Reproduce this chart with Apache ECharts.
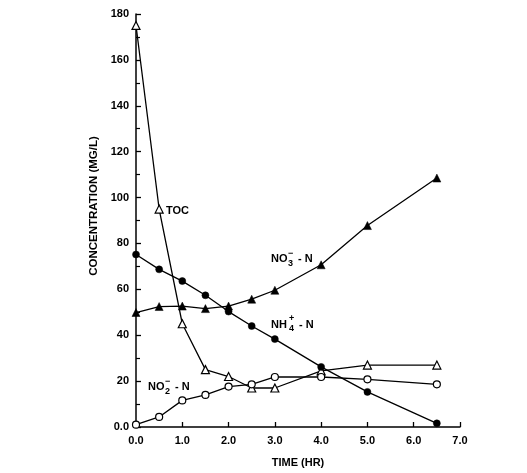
<!DOCTYPE html>
<html><head><meta charset="utf-8">
<script src="https://cdn.jsdelivr.net/npm/echarts@6/dist/echarts.min.js"></script>
<style>html,body{margin:0;padding:0;background:#fff}#c{width:527px;height:473px}</style>
</head><body><div id="c"></div>
<script>
const timeHr = [0, 0.5, 1.0, 1.5, 2.0, 2.5, 3.0, 4.0, 5.0, 6.5];
const tocVals = [175, 95, 45, 25, 22, 17, 17, 24.5, 27, 27];
const nh4Vals = [75.2, 68.7, 63.6, 57.4, 50.3, 44, 38.3, 26.2, 15.3, 1.6];
const no3Vals = [49.9, 52.5, 52.7, 51.6, 52.7, 55.7, 59.6, 70.7, 87.8, 108.5];
const no2Vals = [1, 4.4, 11.6, 14, 17.6, 18.6, 21.8, 21.8, 20.8, 18.6];
const xTicks = [0, 1, 2, 3, 4, 5, 6, 7];
const yTicks = [0, 20, 40, 60, 80, 100, 120, 140, 160, 180];

const F = '"Liberation Sans", Arial, sans-serif';
function pairs(v){ return timeHr.map((t,i)=>[t, v[i]]); }
function ser(name, vals, symbol, open, size){
  return {name, type:'line', data:pairs(vals), symbol, symbolSize:size,
    showAllSymbol:true,
    lineStyle:{color:'#000', width:1.3},
    itemStyle:{color: open ? '#fff' : '#000', borderColor:'#000', borderWidth: open?1.2:0.5},
    z: open ? 3 : 4, animation:false};
}
const chart = echarts.init(document.getElementById('c'));
const txt = (x,y,s,size)=>({type:'text', left:x, top:y, style:{text:s, font:'bold '+(size||11)+'px '+F, fill:'#000'}});
chart.setOption({
  animation:false,
  grid:{left:136, right:67, top:14, bottom:45, containLabel:false},
  xAxis:{type:'value', min:0, max:7, interval:1,
    name:'TIME (HR)', nameLocation:'middle', nameGap:30,
    nameTextStyle:{fontFamily:F, fontWeight:'bold', fontSize:11, color:'#000'},
    axisLine:{lineStyle:{color:'#000', width:1.5}},
    axisTick:{inside:true, length:5, lineStyle:{color:'#000', width:1.3}},
    axisLabel:{formatter:v=>xTicks.includes(v)?v.toFixed(1):'', fontFamily:F, fontWeight:'bold', fontSize:11, color:'#000', margin:8},
    splitLine:{show:false}},
  yAxis:{type:'value', min:0, max:180, interval:20,
    axisLine:{show:true, lineStyle:{color:'#000', width:1.5}},
    axisTick:{show:true, inside:true, length:5, lineStyle:{color:'#000', width:1.3}},
    minorTick:{show:true, splitNumber:2, length:4, lineStyle:{color:'#000', width:1.2}},
    axisLabel:{formatter:v=>v===0?'0.0':(yTicks.includes(v)?String(v):''), fontFamily:F, fontWeight:'bold', fontSize:11, color:'#000', margin:7},
    splitLine:{show:false}},
  series:[
    ser('TOC', tocVals, 'triangle', true, 8),
    ser('NH4', nh4Vals, 'circle', false, 7),
    ser('NO3', no3Vals, 'triangle', false, 8),
    ser('NO2', no2Vals, 'circle', true, 7)
  ],
  graphic:[
    {type:'text', x:94, y:206, rotation:Math.PI/2,
      style:{text:'CONCENTRATION (MG/L)', font:'bold 11.5px '+F, fill:'#000', align:'center', verticalAlign:'middle'}},
    txt(166, 205, 'TOC'),
    txt(271, 253, 'NO'), txt(288, 249, '−', 9), txt(288, 259, '3', 9), txt(298, 253, '- N'),
    txt(271, 319, 'NH'), txt(289, 314, '+', 9), txt(289, 324, '4', 9), txt(299, 319, '- N'),
    txt(148, 381, 'NO'), txt(165, 377, '−', 9), txt(165, 387, '2', 9), txt(175, 381, '- N')
  ]
});
</script></body></html>
